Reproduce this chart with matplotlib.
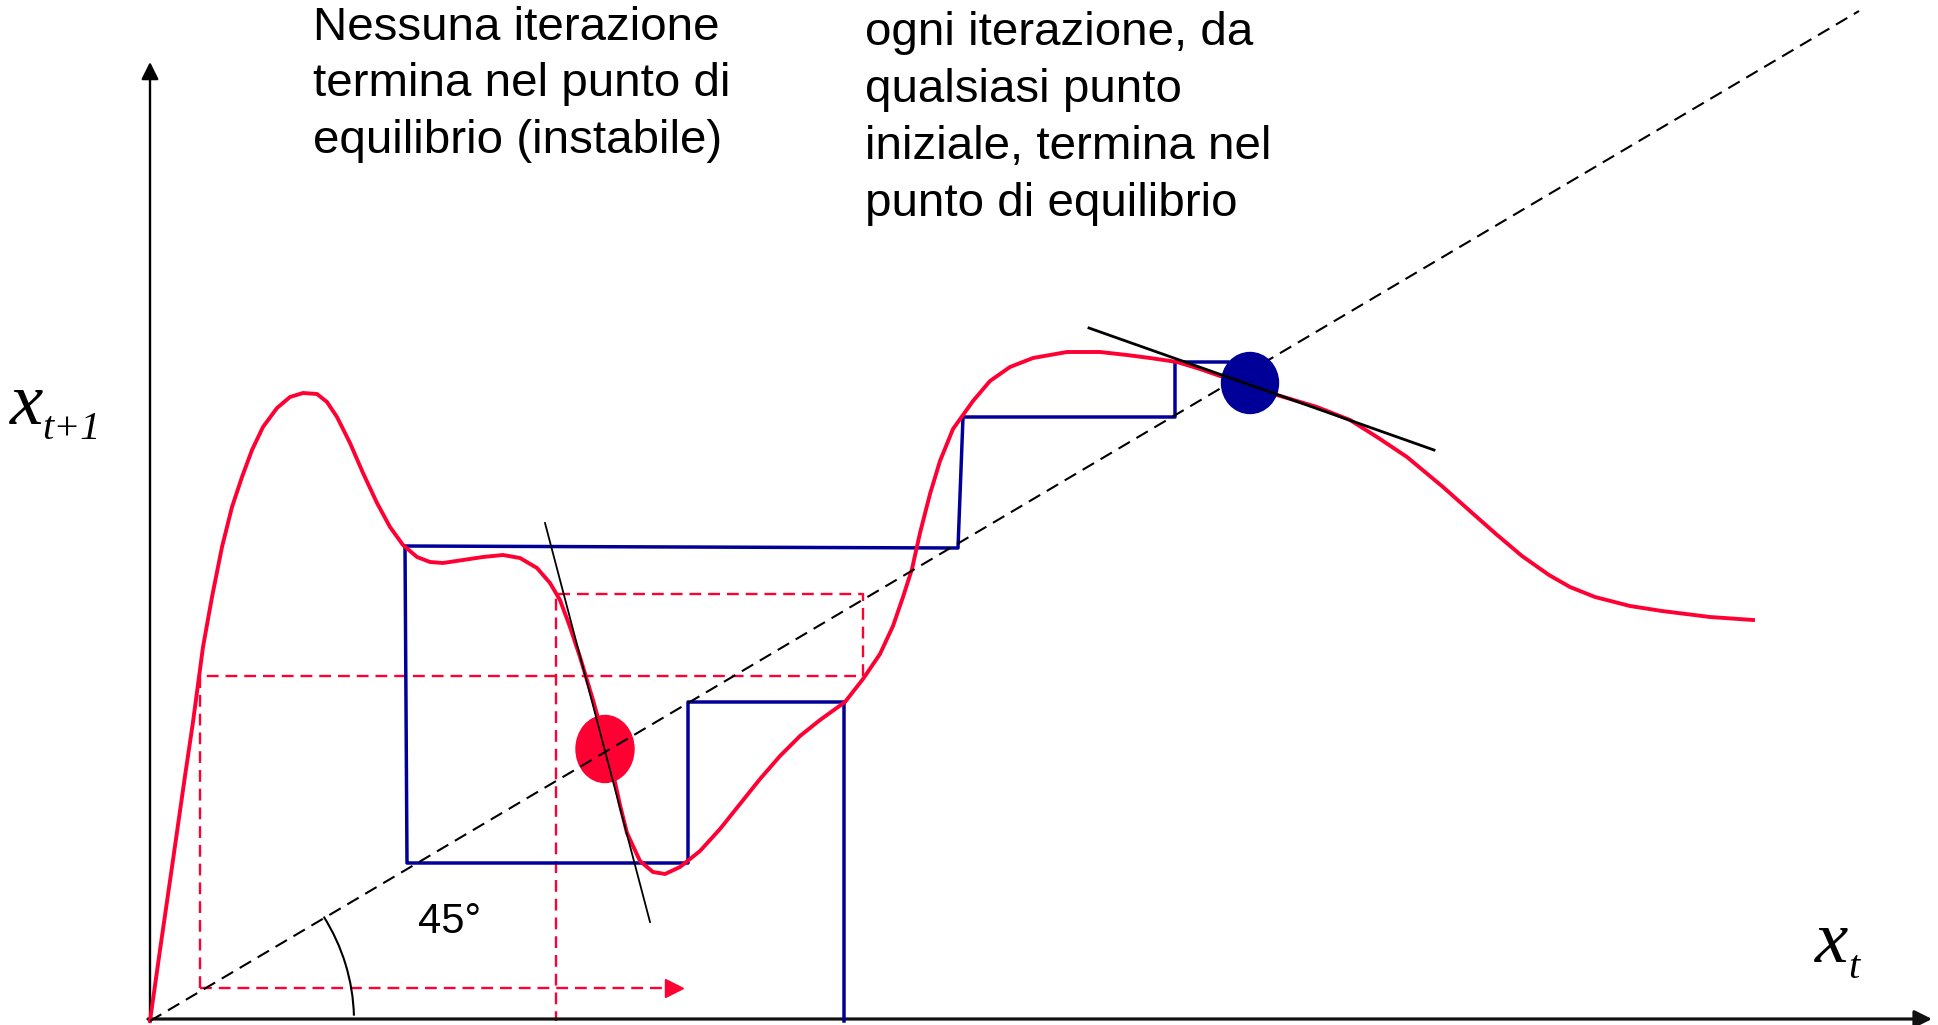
import matplotlib
matplotlib.use('Agg')
import matplotlib.pyplot as plt
from matplotlib.patches import Ellipse, Arc

plt.rcParams['lines.scale_dashes'] = False
plt.rcParams['font.family'] = ['Liberation Sans', 'DejaVu Sans']

# coordinate in pixel dell'immagine originale (1938 x 1025), y verso il basso
ROSSO = '#FF0033'
BLU = '#000099'

# funzione x(t+1) = f(x(t))
curva_x = [150, 160, 173, 185, 193, 203, 212, 222, 232, 242, 252, 263, 277, 290, 303,
           317, 327, 337, 350, 363, 377, 390, 403, 417, 430, 443, 463, 483, 503, 520,
           537, 550, 560, 570, 580, 593, 600, 606, 613, 620, 627, 640, 653, 665, 680,
           700, 720, 740, 760, 780, 800, 820, 845, 863, 880, 893, 903, 912, 920, 930,
           940, 953, 963, 973, 990, 1010, 1033, 1067, 1100, 1127, 1150, 1177, 1200, 1220,
           1250, 1277, 1317, 1350, 1377, 1407, 1443, 1470, 1496, 1522, 1549, 1570, 1595,
           1630, 1662, 1710, 1753]
curva_y = [1021, 950, 860, 776, 722, 647, 597, 547, 507, 477, 450, 427, 408, 397, 393,
           394, 402, 417, 443, 473, 503, 527, 545, 557, 562, 563, 560, 557, 555, 558,
           568, 583, 600, 627, 657, 700, 725, 749, 773, 805, 833, 861, 872, 874, 867,
           851, 829, 804, 779, 756, 736, 720, 702, 679, 654, 626, 597, 569, 533, 494,
           461, 429, 415, 401, 381, 367, 358, 352, 352, 355, 358, 362, 369, 376,
           384, 395, 407, 420, 437, 457, 487, 511, 534, 556, 575, 587, 597,
           606, 611, 617, 620]

# bisettrice
bis_x = [150, 1859]
bis_y = [1021, 11]

# ragnatela blu (converge all'equilibrio stabile)
blu_x = [844, 844, 688, 688, 407, 405, 958, 963, 1175, 1175, 1228]
blu_y = [1021, 702, 702, 863, 863, 546, 548, 417, 417, 362, 362]

# ragnatela rossa tratteggiata (si allontana dall'equilibrio instabile)
rosso_x = [200, 200, 863, 863, 556, 556]
rosso_y = [988, 676, 676, 594, 594, 1021]
freccia_x = [200, 668]
freccia_y = [988, 988]

# tangenti nei punti di equilibrio
tang1_x = [545, 650]
tang1_y = [523, 922]
tang2_x = [1089, 1434]
tang2_y = [328, 450]

testo1 = ['Nessuna iterazione', 'termina nel punto di', 'equilibrio (instabile)']
testo2 = ['ogni iterazione, da', 'qualsiasi punto', 'iniziale, termina nel', 'punto di equilibrio']

fig = plt.figure(figsize=(19.38, 10.25), dpi=100)
ax = fig.add_axes([0, 0, 1, 1])
ax.set_xlim(0, 1938)
ax.set_ylim(1025, 0)
ax.axis('off')

# assi con frecce
ax.annotate('', xy=(150, 62), xytext=(150, 1022),
            arrowprops=dict(arrowstyle='-|>', color='black', lw=1.7, mutation_scale=26, shrinkA=0, shrinkB=0))
ax.annotate('', xy=(1932, 1019), xytext=(148, 1019),
            arrowprops=dict(arrowstyle='-|>', color='#111111', lw=2.3, mutation_scale=26, shrinkA=0, shrinkB=0))

ax.plot(rosso_x, rosso_y, color=ROSSO, lw=1.7, dashes=(8.5, 5), zorder=2)
ax.plot(freccia_x, freccia_y, color=ROSSO, lw=1.7, dashes=(8.5, 5), zorder=2)
ax.plot([freccia_x[1] + 6], [freccia_y[1]], marker='>', color=ROSSO, markersize=13, zorder=2)

ax.plot(blu_x, blu_y, color=BLU, lw=2.5, zorder=3)
ax.plot(curva_x, curva_y, color=ROSSO, lw=2.8, zorder=4, solid_joinstyle='round')

ax.add_patch(Ellipse((605, 749), 58, 67, color=ROSSO, zorder=5))
ax.plot(bis_x, bis_y, color='black', lw=1.5, dashes=(9.5, 5.5), zorder=6)
ax.add_patch(Ellipse((1250, 383), 57, 61, color=BLU, zorder=7))

ax.plot(tang1_x, tang1_y, color='black', lw=1.3, zorder=8)
ax.plot(tang2_x, tang2_y, color='black', lw=2.0, zorder=8)

# angolo di 45 gradi
ax.add_patch(Arc((150, 1021), 408, 398, theta1=-31, theta2=-1.5, color='black', lw=1.5, zorder=8))
ax.text(418, 933, '45°', fontsize=30, va='baseline', ha='left')

for i, riga in enumerate(testo1):
    ax.text(313, 40 + i * 56.5, riga, fontsize=34.2, va='baseline', ha='left')
for i, riga in enumerate(testo2):
    ax.text(865, 45 + i * 57, riga, fontsize=34.2, va='baseline', ha='left')

# etichette degli assi
serif = ['Liberation Serif', 'DejaVu Serif']
ax.text(10, 424, 'x', fontsize=54, family=serif, style='italic', va='baseline')
ax.text(42, 439, 't+1', fontsize=29, family=serif, style='italic', va='baseline')
ax.text(1815, 962, 'x', fontsize=54, family=serif, style='italic', va='baseline')
ax.text(1848, 978, 't', fontsize=29, family=serif, style='italic', va='baseline')

plt.savefig('out.png', dpi=100)
